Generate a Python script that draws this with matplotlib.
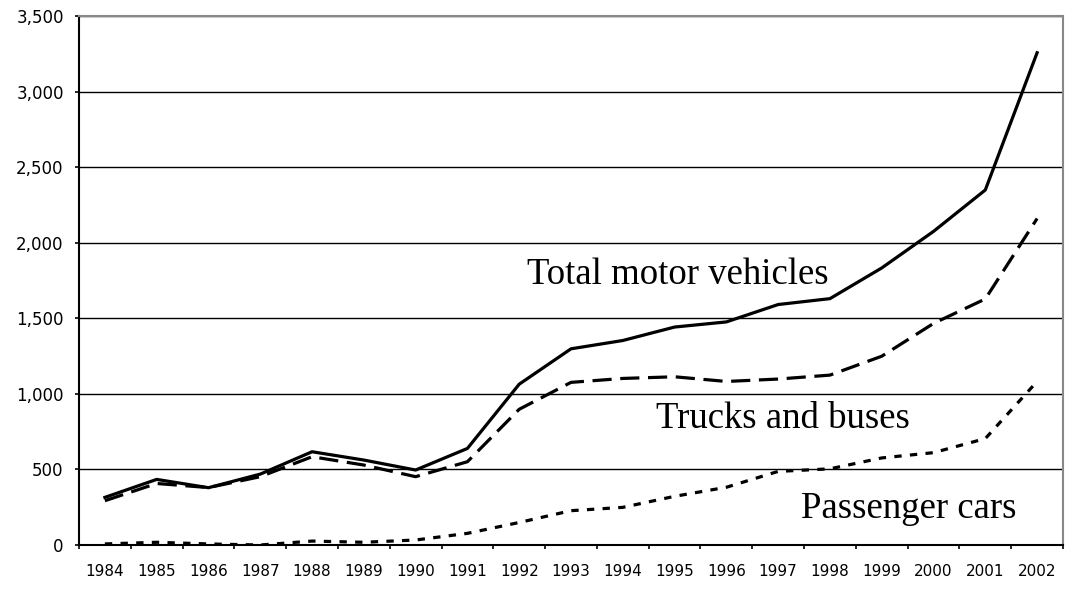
import matplotlib.pyplot as plt
import numpy as np
from matplotlib.ticker import FuncFormatter

years = [str(y) for y in range(1984, 2003)]
total = [315, 434, 379, 469, 617, 562, 496, 639, 1064, 1298, 1353, 1442, 1476, 1591, 1630, 1833, 2075, 2349, 3257]
trucks = [293, 407, 380, 452, 584, 529, 452, 551, 898, 1076, 1102, 1113, 1082, 1098, 1124, 1249, 1466, 1628, 2160]
cars = [7, 18, 7, 0, 26, 18, 33, 77, 149, 227, 249, 322, 382, 487, 504, 576, 611, 704, 1082]

fig = plt.figure(figsize=(10.66, 5.9), dpi=100)
ax = fig.add_axes([79/1066, 45/590, (1063-79)/1066, (545-16)/590])

x = np.arange(len(years))
ax.plot(x, total, color='black', lw=2.3)
ax.plot(x, trucks, color='black', lw=2.3, dashes=(6, 2.7))
ax.plot(x, cars, color='black', lw=2.3, dashes=(2.3, 2.6))

ax.set_xlim(-0.5, len(years) - 0.5)
ax.set_ylim(0, 3500)
ax.set_yticks(range(0, 3501, 500))
ax.yaxis.set_major_formatter(FuncFormatter(lambda v, p: f'{int(v):,}'))
ax.grid(axis='y', color='black', lw=1)
ax.set_axisbelow(True)

# ticks between categories, labels at the centres
ax.set_xticks(np.arange(-0.5, len(years)), labels=[''] * (len(years) + 1))
ax.set_xticks(x, labels=years, minor=True)
ax.tick_params(axis='x', which='major', length=3, width=1.2, direction='out', color='black')
ax.tick_params(axis='x', which='minor', length=0, pad=14, labelsize=11)
ax.tick_params(axis='y', length=3, width=1.2, direction='out', labelsize=12, pad=8)

for s in ['left', 'bottom']:
    ax.spines[s].set_color('black')
    ax.spines[s].set_linewidth(1.5)
for s in ['top', 'right']:
    ax.spines[s].set_color('#888888')
    ax.spines[s].set_linewidth(1.5)

serif = dict(family='Liberation Serif', fontsize=26.5, ha='center', va='baseline')
ax.text(11.06, 1726, 'Total motor vehicles', **serif)
ax.text(13.09, 774, 'Trucks and buses', **serif)
ax.text(15.53, 179, 'Passenger cars', **serif)

fig.savefig('out.png', dpi=100)
